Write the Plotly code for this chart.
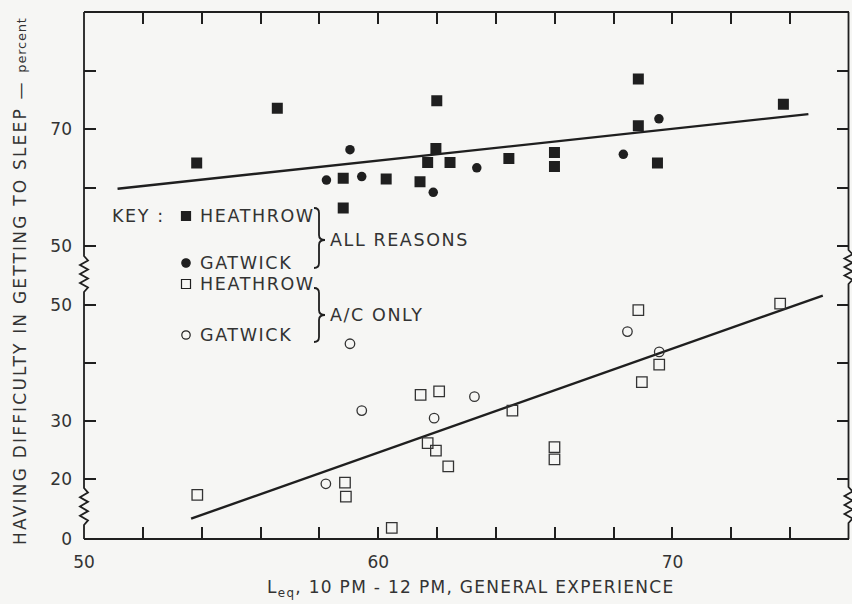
import plotly.graph_objects as go
from plotly.subplots import make_subplots

# ALL REASONS (upper panel)
heathrow_all_x = [53.83, 56.57, 58.81, 58.81, 60.27, 61.42, 61.68, 61.99, 61.96, 62.44,
                  64.44, 65.99, 65.99, 68.84, 68.84, 69.49, 73.77]
heathrow_all_y = [64.2, 73.6, 56.5, 61.6, 61.5, 61.0, 64.3, 74.9, 66.7, 64.3,
                  65.0, 66.0, 63.6, 78.6, 70.6, 64.2, 74.3]
gatwick_all_x = [58.24, 59.04, 59.44, 61.87, 63.35, 68.33, 69.54]
gatwick_all_y = [61.3, 66.5, 61.9, 59.2, 63.4, 65.7, 71.8]
fit_all_x = [51.14, 74.62]
fit_all_y = [59.8, 72.6]

# A/C ONLY (lower panel, values as read on the broken scale)
heathrow_ac_x = [53.85, 56.55, 58.87, 58.90, 60.46, 61.44, 62.07, 61.68, 61.96, 62.38,
                 64.56, 65.99, 65.99, 68.84, 68.96, 69.55, 73.66]
heathrow_ac_y = [17.3, 9.4, 19.4, 17.0, 11.6, 34.5, 35.1, 26.2, 24.9, 22.2,
                 31.8, 25.5, 23.4, 49.1, 36.7, 39.7, 50.2]
gatwick_ac_x = [58.22, 59.04, 59.44, 61.90, 63.27, 68.47, 69.55]
gatwick_ac_y = [19.2, 43.3, 31.8, 30.5, 34.2, 45.4, 41.9]
fit_ac_x = [53.64, 75.11]
fit_ac_y = [13.2, 51.6]

x_ticks = list(range(50, 77, 2))
x_text = ["50" if v == 50 else "60" if v == 60 else "70" if v == 70 else "" for v in x_ticks]
upper_ticks = [50, 60, 70, 80]
upper_text = ["50", "", "70", ""]
lower_ticks = [9.7, 20, 30, 40, 50]
lower_text = ["0", "20", "30", "", "50"]

INK = "#1f1f1f"
TXT = "#333333"
BG = "#f6f6f4"
FONT = "DejaVu Sans, Liberation Sans, sans-serif"

# pixel -> paper helpers for decorations (plot area 84..849 x 12..539)
def px(x):
    return (x - 84) / 765

def py(y):
    return (539 - y) / 527

def spaced(s, sp):
    return f"<span style='letter-spacing:{sp}px'>{s}</span>"

fig = make_subplots(rows=2, cols=1, shared_xaxes=True, vertical_spacing=0)

fig.add_trace(go.Scatter(x=fit_all_x, y=fit_all_y, mode="lines",
                         line=dict(color=INK, width=2.4)), row=1, col=1)
fig.add_trace(go.Scatter(x=heathrow_all_x, y=heathrow_all_y, mode="markers",
                         marker=dict(symbol="square", size=11, color=INK)), row=1, col=1)
fig.add_trace(go.Scatter(x=gatwick_all_x, y=gatwick_all_y, mode="markers",
                         marker=dict(symbol="circle", size=9.5, color=INK)), row=1, col=1)

fig.add_trace(go.Scatter(x=fit_ac_x, y=fit_ac_y, mode="lines",
                         line=dict(color=INK, width=2.4)), row=2, col=1)
fig.add_trace(go.Scatter(x=heathrow_ac_x, y=heathrow_ac_y, mode="markers", cliponaxis=False,
                         marker=dict(symbol="square-open", size=10.5, color=TXT,
                                     line=dict(width=1.3))), row=2, col=1)
fig.add_trace(go.Scatter(x=gatwick_ac_x, y=gatwick_ac_y, mode="markers", cliponaxis=False,
                         marker=dict(symbol="circle-open", size=9.5, color=TXT,
                                     line=dict(width=1.3))), row=2, col=1)

tick_style = dict(ticks="inside", ticklen=12, tickwidth=1.5, tickcolor=INK,
                  showgrid=False, zeroline=False, showline=False, automargin=False,
                  tickfont=dict(family=FONT, size=17, color=TXT))

fig.update_xaxes(range=[50, 76], tickvals=x_ticks, ticktext=x_text, **tick_style)
fig.update_xaxes(side="top", showticklabels=False, row=1, col=1)
fig.update_xaxes(side="bottom", ticklabelstandoff=11, row=2, col=1)
fig.update_yaxes(range=[44.94, 90.1], tickvals=upper_ticks, ticktext=upper_text,
                 mirror="ticks", ticklabelstandoff=11, row=1, col=1, **tick_style)
fig.update_yaxes(range=[9.7, 55.05], tickvals=lower_ticks, ticktext=lower_text,
                 mirror="ticks", ticklabelstandoff=11, row=2, col=1, **tick_style)


def border(xc, breaks):
    pts = [(xc, 12)]
    for y0, y1 in breaks:
        pts.append((xc, y0))
        n = 8
        step = (y1 - y0) / n
        for i in range(1, n):
            pts.append((xc + (4 if i % 2 else -4), y0 + i * step))
        pts.append((xc, y1))
    pts.append((xc, 539))
    return "M " + " L ".join(f"{px(a):.5f},{py(b):.5f}" for a, b in pts)


def brace(x0, ytop, ybot, ytip):
    xm = x0 + 5
    xt = x0 + 11
    seg = [
        f"M {px(x0):.5f},{py(ytop):.5f}",
        f"Q {px(xm):.5f},{py(ytop):.5f} {px(xm):.5f},{py(ytop + 5):.5f}",
        f"L {px(xm):.5f},{py(ytip - 5):.5f}",
        f"Q {px(xm):.5f},{py(ytip):.5f} {px(xt):.5f},{py(ytip):.5f}",
        f"Q {px(xm):.5f},{py(ytip):.5f} {px(xm):.5f},{py(ytip + 5):.5f}",
        f"L {px(xm):.5f},{py(ybot - 5):.5f}",
        f"Q {px(xm):.5f},{py(ybot):.5f} {px(x0):.5f},{py(ybot):.5f}",
    ]
    return " ".join(seg)


line = dict(color=INK, width=1.8)
shapes = [
    dict(type="line", xref="paper", yref="paper", x0=0, x1=1, y0=1, y1=1, line=line),
    dict(type="line", xref="paper", yref="paper", x0=0, x1=1, y0=0, y1=0, line=line),
    dict(type="path", xref="paper", yref="paper", path=border(84, [(256, 292), (488, 525)]), line=line),
    dict(type="path", xref="paper", yref="paper", path=border(848.5, [(250, 284), (487, 523)]), line=line),
    dict(type="path", xref="paper", yref="paper", path=brace(314, 208, 268, 240),
         line=dict(color=INK, width=1.8)),
    dict(type="path", xref="paper", yref="paper", path=brace(314, 288, 342, 315),
         line=dict(color=INK, width=1.8)),
]
# key symbols
for cx, cy, kind, filled in [(186, 216, "rect", True), (186, 263, "circle", True),
                             (186, 284, "rect", False), (186, 335, "circle", False)]:
    r = 4.5 if kind == "rect" else 4.2
    shapes.append(dict(type=kind, xref="paper", yref="paper",
                       x0=px(cx - r), x1=px(cx + r), y0=py(cy + r), y1=py(cy - r),
                       fillcolor=INK if filled else BG, line=dict(color=INK, width=1.2)))

key_font = dict(family=FONT, size=17.5, color=TXT)
annotations = [
    dict(text=spaced("KEY :", 1.6), x=px(110), y=py(216)),
    dict(text=spaced("HEATHROW", 1.6), x=px(198), y=py(216)),
    dict(text=spaced("GATWICK", 1.6), x=px(198), y=py(263)),
    dict(text=spaced("HEATHROW", 1.6), x=px(198), y=py(284)),
    dict(text=spaced("GATWICK", 1.6), x=px(198), y=py(335)),
    dict(text=spaced("ALL REASONS", 1.6), x=px(328), y=py(240)),
    dict(text=spaced("A/C ONLY", 1.6), x=px(328), y=py(315)),
]
for a in annotations:
    a.update(xref="paper", yref="paper", xanchor="left", yanchor="middle",
             showarrow=False, font=key_font)
annotations.append(dict(
    text=spaced("HAVING DIFFICULTY IN GETTING TO SLEEP — ", 2.2)
    + "<span style='font-size:13px;letter-spacing:0.8px'>percent</span>",
    x=px(20), y=py(281), xref="paper", yref="paper", textangle=-90,
    xanchor="center", yanchor="middle", showarrow=False,
    font=dict(family=FONT, size=17, color=TXT)))
annotations.append(dict(
    text=spaced("L<sub>eq</sub>, 10 PM - 12 PM, GENERAL EXPERIENCE", 1.3),
    x=px(471), y=py(588), xref="paper", yref="paper",
    xanchor="center", yanchor="middle", showarrow=False,
    font=dict(family=FONT, size=17, color=TXT)))

fig.update_layout(
    width=852, height=604,
    margin=dict(l=84, r=3, t=12, b=65, autoexpand=False),
    paper_bgcolor=BG, plot_bgcolor=BG,
    showlegend=False,
    shapes=shapes,
    annotations=annotations,
)

# drop the default 8px page margin so the figure sits at the window's corner
fig.write_html("out.html", config={"displayModeBar": False},
               post_script="document.body.style.margin='0';"
                           "document.body.style.overflow='hidden';")
